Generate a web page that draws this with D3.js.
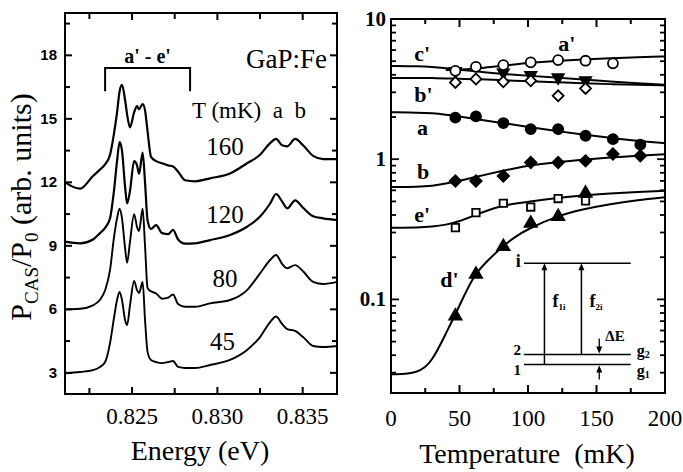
<!DOCTYPE html>
<html>
<head>
<meta charset="utf-8">
<script src="https://cdn.jsdelivr.net/npm/d3@7"></script>
<style>
  body { margin: 0; background: #fff; }
  text { font-family: "Liberation Serif", "Times New Roman", serif; fill: #000; }
</style>
</head>
<body>
<div class="canvas"></div>
<script>
// ---- left panel: spectra ----
const energy = [0.82107, 0.82195, 0.82271, 0.82312, 0.82342, 0.82371, 0.82394, 0.82412, 0.82427, 0.82441,
  0.82459, 0.82471, 0.82488, 0.82512, 0.82529, 0.82541, 0.82562, 0.82576, 0.82591, 0.82611,
  0.82641, 0.82676, 0.82711, 0.82740, 0.82770, 0.82811, 0.82869, 0.82957, 0.83074, 0.83174,
  0.83250, 0.83309, 0.83344, 0.83379, 0.83409, 0.83456, 0.83502, 0.83561, 0.83620, 0.83702];
const spec45 = [2.98, 3.04, 3.13, 3.28, 3.51, 4.41, 5.59, 6.44, 6.82, 6.44,
  5.50, 5.26, 6.20, 7.34, 6.91, 6.77, 7.29, 5.50, 3.98, 3.61,
  3.51, 3.46, 3.51, 3.56, 3.28, 3.23, 3.23, 3.37, 3.61, 4.08,
  4.69, 5.40, 5.66, 5.31, 5.07, 4.98, 4.69, 4.27, 4.22, 4.27];
const spec80 = [6.00, 6.03, 6.19, 6.45, 6.90, 7.86, 9.40, 10.30, 10.75, 10.30,
  8.90, 8.20, 9.20, 10.50, 9.90, 9.70, 10.75, 9.00, 7.00, 6.85,
  6.75, 6.50, 6.55, 6.70, 6.25, 6.12, 6.12, 6.28, 6.44, 6.91,
  7.70, 8.33, 8.57, 8.15, 7.94, 8.09, 7.80, 7.30, 7.20, 7.30];
const spec120 = [9.20, 9.12, 9.30, 9.60, 9.85, 10.30, 11.60, 13.00, 13.90, 13.50,
  11.80, 11.00, 11.60, 13.00, 12.80, 12.40, 13.40, 12.00, 10.20, 9.80,
  9.98, 9.60, 9.55, 9.75, 9.30, 9.10, 9.12, 9.27, 9.51, 9.90,
  10.38, 11.00, 11.45, 11.10, 10.77, 11.15, 10.80, 10.40, 10.30, 10.22];
const spec160 = [12.00, 11.70, 12.30, 12.60, 12.85, 13.30, 14.30, 15.30, 16.30, 16.60,
  15.90, 15.20, 14.60, 15.30, 15.60, 15.45, 15.70, 15.40, 14.40, 13.20,
  13.00, 12.90, 12.80, 12.75, 12.50, 12.10, 12.05, 12.19, 12.42, 12.90,
  13.30, 13.85, 14.05, 13.75, 13.70, 14.05, 13.75, 13.25, 13.10, 13.10];
const specLabels = ["45", "80", "120", "160"];
const specLabelAt = [[0.83030, 4.08], [0.83045, 7.07], [0.83045, 10.08], [0.83045, 13.29]];
const leftTicksY = [3, 6, 9, 12, 15, 18];
const leftTicksX = [0.825, 0.830, 0.835];

// ---- right panel: intensities vs temperature ----
const tempT = [47, 62, 82, 102, 122, 142, 162, 182];
const aPrimePts = [4.27, 4.56, 4.69, 4.91, 5.09, 5.04, 4.83, null];
const cPrimePts = [4.25, null, 4.15, 3.97, 3.83, 3.65, null, null];
const bPrimePts = [3.53, 3.73, 3.57, 3.63, 2.83, 3.20, null, null];
const aPts = [1.98, 2.02, 1.81, 1.64, 1.64, 1.47, 1.39, 1.27];
const bPts = [0.70, 0.70, 0.76, 0.947, 0.947, 0.973, 1.09, 1.06];
const ePrimePts = [0.325, 0.416, 0.485, 0.456, 0.524, 0.504, null, null];
const dPrimePts = [0.0761, 0.151, 0.238, 0.349, 0.39, 0.572, null, null];

const fitT = [0, 20, 30, 40, 50, 60, 70, 80, 90, 100, 120, 140, 160, 180, 200];
const aPrimeFit = [null, null, null, 4.32, 4.36, 4.42, 4.52, 4.62, 4.74, 4.86, 5.02, 5.14, 5.24, 5.33, 5.41];
const cPrimeFit = [4.62, 4.60, 4.55, 4.45, 4.35, 4.25, 4.15, 4.07, 4.00, 3.94, 3.82, 3.70, 3.58, 3.48, 3.40];
const bPrimeFit = [3.80, 3.80, 3.79, 3.77, 3.75, 3.72, 3.70, 3.66, 3.63, 3.60, 3.54, 3.48, 3.43, 3.39, 3.36];
const aFit = [2.16, 2.15, 2.13, 2.08, 2.02, 1.95, 1.88, 1.82, 1.76, 1.70, 1.59, 1.50, 1.42, 1.35, 1.30];
const bFit = [0.634, 0.636, 0.645, 0.67, 0.70, 0.74, 0.78, 0.82, 0.86, 0.90, 0.95, 0.99, 1.03, 1.06, 1.085];
const ePrimeFit = [0.325, 0.325, 0.33, 0.34, 0.36, 0.395, 0.43, 0.462, 0.482, 0.498, 0.528, 0.553, 0.57, 0.584, 0.595];
const dPrimeFit = [0.0292, 0.0295, 0.036, 0.057, 0.09, 0.147, 0.187, 0.232, 0.278, 0.318, 0.39, 0.44, 0.48, 0.51, 0.535];

const seriesNames = ["c'", "a'", "b'", "a", "b", "e'", "d'"];
const seriesLabelAt = [[17, 5.0], [122, 5.95], [17, 2.56], [19, 1.49], [19, 0.72], [17, 0.355], [36, 0.123]];
const rightTicksX = [0, 50, 100, 150, 200];
const rightTicksY = [0.1, 1, 10];

// inset level scheme (T, value units)
const levelNames = ["i", "2", "1"];
const levelVal = [0.181, 0.0405, 0.0343];
const levelSpan = [97, 175];
const transT = [112, 139];
const transNames = ["f", "f"];
const transSubs = ["1i", "2i"];

// ---- drawing ----
const svg = d3.select(".canvas").append("svg").attr("width", 683).attr("height", 472);

const xL = d3.scaleLinear().domain([0.82107, 0.83701]).range([65, 337]);
const yL = d3.scaleLinear().domain([2, 20]).range([394, 13]);
const xR = d3.scaleLinear().domain([0, 200]).range([391, 665]);
const yR = d3.scaleLog().domain([0.0215, 10]).range([393, 19]);

const left = svg.append("g");
const right = svg.append("g");

// spectra
const specLine = d3.line()
  .x((d, i) => xL(energy[i]))
  .y(d => yL(d))
  .curve(d3.curveMonotoneX);
[spec45, spec80, spec120, spec160].forEach((s, k) => {
  left.append("path").attr("d", specLine(s))
    .attr("fill", "none").attr("stroke", "#000")
    .attr("stroke-width", k > 1 ? 2.2 : 1.9).attr("stroke-linejoin", "round");
});
specLabels.forEach((t, i) => {
  left.append("text").attr("x", xL(specLabelAt[i][0])).attr("y", yL(specLabelAt[i][1]))
    .attr("text-anchor", "middle").attr("font-size", 25).text(t);
});

// frame + ticks (left)
left.append("rect").attr("x", 65).attr("y", 13).attr("width", 272).attr("height", 381)
  .attr("fill", "none").attr("stroke", "#000").attr("stroke-width", 2);
d3.range(3, 19.6, 1.5).forEach(v => {
  const len = v % 3 === 0 ? 7 : 5;
  left.append("line").attr("x1", 65).attr("x2", 65 + len).attr("y1", yL(v)).attr("y2", yL(v)).attr("stroke", "#000").attr("stroke-width", 2);
  left.append("line").attr("x1", 337).attr("x2", 337 - len).attr("y1", yL(v)).attr("y2", yL(v)).attr("stroke", "#000").attr("stroke-width", 2);
});
[0.8225, 0.825, 0.8275, 0.830, 0.8325, 0.835].forEach((v, i) => {
  const len = i % 2 ? 7 : 6;
  left.append("line").attr("x1", xL(v)).attr("x2", xL(v)).attr("y1", 394).attr("y2", 394 - len).attr("stroke", "#000").attr("stroke-width", 2);
  left.append("line").attr("x1", xL(v)).attr("x2", xL(v)).attr("y1", 13).attr("y2", 13 + len).attr("stroke", "#000").attr("stroke-width", 2);
});
leftTicksY.forEach(v => {
  left.append("text").attr("x", 57).attr("y", yL(v) + 5).attr("text-anchor", "end")
    .style("font-family", "'Liberation Sans', Arial, sans-serif").attr("font-weight", "bold")
    .attr("font-size", 15).text(v);
});
leftTicksX.forEach(v => {
  left.append("text").attr("x", xL(v)).attr("y", 424).attr("text-anchor", "middle")
    .attr("font-size", 23).text(v.toFixed(3));
});
left.append("text").attr("x", 200).attr("y", 460).attr("text-anchor", "middle")
  .attr("font-size", 28).text("Energy (eV)");

const yLab = left.append("text").attr("transform", "translate(31,207) rotate(-90)")
  .attr("text-anchor", "middle").attr("font-size", 30);
yLab.append("tspan").text("P");
yLab.append("tspan").attr("font-size", 19).attr("dy", 7).text("CAS");
yLab.append("tspan").attr("dy", -7).text("/P");
yLab.append("tspan").attr("font-size", 19).attr("dy", 7).text("0");
yLab.append("tspan").attr("dy", -7).text(" (arb. units)");

// bracket a'-e'
const brE = [0.82342, 0.82840];
left.append("path")
  .attr("d", d3.line()([[xL(brE[0]), yL(16.3)], [xL(brE[0]), yL(17.4)], [xL(brE[1]), yL(17.4)], [xL(brE[1]), yL(16.3)]]))
  .attr("fill", "none").attr("stroke", "#000").attr("stroke-width", 2);
left.append("text").attr("x", xL((brE[0] + brE[1]) / 2)).attr("y", 63).attr("text-anchor", "middle")
  .attr("font-size", 20).attr("font-weight", "bold").text("a' - e'");
left.append("text").attr("x", 327).attr("y", 68).attr("text-anchor", "end")
  .attr("font-size", 27).text("GaP:Fe");
left.append("text").attr("x", 192).attr("y", 118).attr("font-size", 23).style("white-space", "pre")
  .text("T (mK)  a  b");

// fits
const fitLine = d3.line().defined(d => d != null)
  .x((d, i) => xR(fitT[i])).y(d => yR(d)).curve(d3.curveBasis);
[aPrimeFit, cPrimeFit, bPrimeFit, aFit, bFit, ePrimeFit, dPrimeFit].forEach(f => {
  right.append("path").attr("d", fitLine(f)).attr("fill", "none")
    .attr("stroke", "#000").attr("stroke-width", 2);
});

// markers
function markers(vals, type, size, filled, rot) {
  const sym = d3.symbol().type(type).size(size)();
  tempT.forEach((t, i) => {
    if (vals[i] == null) return;
    right.append("path").attr("d", sym)
      .attr("transform", `translate(${xR(t)},${yR(vals[i])}) rotate(${rot})`)
      .attr("fill", filled ? "#000" : "#fff").attr("stroke", "#000").attr("stroke-width", 1.8);
  });
}
markers(cPrimePts, d3.symbolTriangle, 55, true, 180);
markers(bPrimePts, d3.symbolSquare, 60, false, 45);
markers(aPrimePts, d3.symbolCircle, 78, false, 0);
markers(aPts, d3.symbolCircle, 80, true, 0);
markers(bPts, d3.symbolSquare, 65, true, 45);
markers(ePrimePts, d3.symbolSquare, 55, false, 0);
markers(dPrimePts, d3.symbolTriangle, 65, true, 0);

seriesNames.forEach((n, i) => {
  right.append("text").attr("x", xR(seriesLabelAt[i][0])).attr("y", yR(seriesLabelAt[i][1]))
    .attr("font-size", 22).attr("font-weight", "bold").text(n);
});

// inset level diagram
levelNames.forEach((n, i) => {
  right.append("line").attr("x1", xR(levelSpan[0])).attr("x2", xR(levelSpan[1]))
    .attr("y1", yR(levelVal[i])).attr("y2", yR(levelVal[i])).attr("stroke", "#000").attr("stroke-width", 1.6);
  right.append("text").attr("x", xR(levelSpan[0]) - 3).attr("y", yR(levelVal[i]) + [4, 1, 10][i])
    .attr("text-anchor", "end").attr("font-size", i === 0 ? 18 : 15).attr("font-weight", "bold").text(n);
});
["g", "g"].forEach((g, i) => {
  const t = right.append("text").attr("x", xR(levelSpan[1]) + 6).attr("y", yR(levelVal[i + 1]) + (i === 0 ? 2 : 11))
    .attr("font-size", 16).attr("font-weight", "bold").text(g);
  t.append("tspan").attr("font-size", 10).attr("dy", 2).text(i === 0 ? "2" : "1");
});
const arrowHead = (x, y, dir) => `M${x},${y}L${x - 3},${y - 7 * dir}L${x + 3},${y - 7 * dir}Z`;
transT.forEach((t, i) => {
  const x = xR(t);
  right.append("line").attr("x1", x).attr("x2", x).attr("y1", yR(levelVal[2 - i])).attr("y2", yR(levelVal[0]) + 4)
    .attr("stroke", "#000").attr("stroke-width", 1.5);
  right.append("path").attr("d", arrowHead(x, yR(levelVal[0]), -1)).attr("fill", "#000");
  const lab = right.append("text").attr("x", x + 8).attr("y", yR(0.1) + 8)
    .attr("font-size", 18).attr("font-weight", "bold").text(transNames[i]);
  lab.append("tspan").attr("font-size", 9).attr("dy", 3).text(transSubs[i]);
});
const dEx = xR(152);
right.append("line").attr("x1", dEx).attr("x2", dEx).attr("y1", yR(levelVal[1]) - 16).attr("y2", yR(levelVal[1]) - 3).attr("stroke", "#000").attr("stroke-width", 1.3);
right.append("path").attr("d", arrowHead(dEx, yR(levelVal[1]) - 1, 1)).attr("fill", "#000");
right.append("line").attr("x1", dEx).attr("x2", dEx).attr("y1", yR(levelVal[2]) + 3).attr("y2", yR(levelVal[2]) + 15).attr("stroke", "#000").attr("stroke-width", 1.3);
right.append("path").attr("d", arrowHead(dEx, yR(levelVal[2]) + 1, -1)).attr("fill", "#000");
right.append("text").attr("x", dEx + 6).attr("y", yR(levelVal[1]) - 13).attr("font-size", 15).attr("font-weight", "bold").text("ΔE");

// frame + ticks (right)
right.append("rect").attr("x", 391).attr("y", 19).attr("width", 274).attr("height", 374)
  .attr("fill", "none").attr("stroke", "#000").attr("stroke-width", 2);
d3.range(0, 201, 25).forEach(v => {
  const len = v % 50 === 0 ? 8 : 5;
  right.append("line").attr("x1", xR(v)).attr("x2", xR(v)).attr("y1", 393).attr("y2", 393 - len).attr("stroke", "#000").attr("stroke-width", 2);
  right.append("line").attr("x1", xR(v)).attr("x2", xR(v)).attr("y1", 19).attr("y2", 19 + len).attr("stroke", "#000").attr("stroke-width", 2);
});
yR.ticks().filter(v => v >= 0.0215 && v <= 10).forEach(v => {
  const major = rightTicksY.includes(v);
  const len = major ? 8 : 5;
  right.append("line").attr("x1", 391).attr("x2", 391 + len).attr("y1", yR(v)).attr("y2", yR(v)).attr("stroke", "#000").attr("stroke-width", 1.8);
  right.append("line").attr("x1", 665).attr("x2", 665 - len).attr("y1", yR(v)).attr("y2", yR(v)).attr("stroke", "#000").attr("stroke-width", 1.8);
});
rightTicksY.forEach(v => {
  right.append("text").attr("x", 386).attr("y", yR(v) + 7).attr("text-anchor", "end")
    .attr("font-size", 21).attr("font-weight", "bold").text(v);
});
rightTicksX.forEach(v => {
  right.append("text").attr("x", xR(v)).attr("y", 426).attr("text-anchor", "middle")
    .attr("font-size", 23).text(v);
});
right.append("text").attr("x", 527).attr("y", 463).attr("text-anchor", "middle").style("white-space", "pre")
  .attr("font-size", 28).text("Temperature  (mK)");
</script>
</body>
</html>
